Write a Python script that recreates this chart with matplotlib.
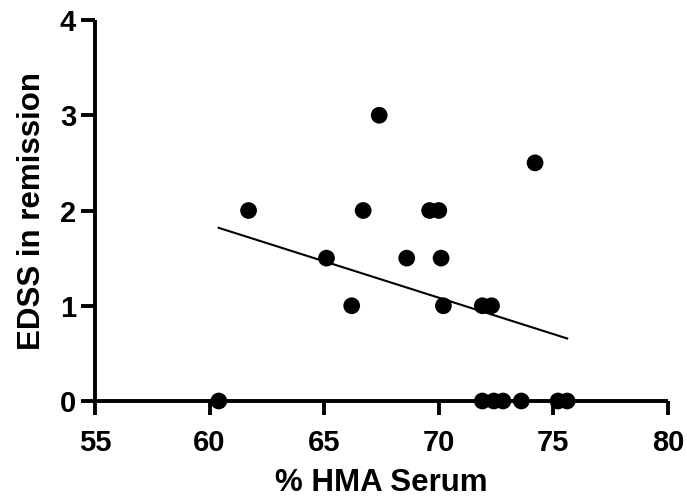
import numpy as np
import matplotlib
matplotlib.use("Agg")
import matplotlib.pyplot as plt

plt.rcParams["font.family"] = ["Liberation Sans", "DejaVu Sans"]
plt.rcParams["font.weight"] = "bold"

# % HMA in serum vs EDSS score in remission
hma_serum = [60.4, 61.7, 65.1, 66.2, 66.7, 67.4, 68.6, 69.6, 70.0, 70.1,
             70.2, 71.9, 72.3, 71.9, 72.4, 72.8, 73.6, 74.2, 75.2, 75.6]
edss = [0, 2, 1.5, 1, 2, 3, 1.5, 2, 2, 1.5,
        1, 1, 1, 0, 0, 0, 0, 2.5, 0, 0]

x_ticks = [55, 60, 65, 70, 75, 80]
y_ticks = [0, 1, 2, 3, 4]

x = np.array(hma_serum)
y = np.array(edss)
slope, intercept = np.polyfit(x, y, 1)
xfit = np.array([x.min(), x.max()])

fig = plt.figure(figsize=(6.87, 5.01), dpi=100)
ax = fig.add_axes([95 / 687, 100 / 501, 573 / 687, 381 / 501])

ax.scatter(x, y, s=145, color="black", edgecolors="none", zorder=5, clip_on=False)
ax.plot(xfit, slope * xfit + intercept, color="black", lw=1.5, zorder=4)

ax.set_xlim(55, 80)
ax.set_ylim(0, 4)
ax.set_xticks(x_ticks)
ax.set_yticks(y_ticks)
ax.spines[["top", "right"]].set_visible(False)
for s in ["left", "bottom"]:
    ax.spines[s].set_linewidth(2.8)
    ax.spines[s].set_capstyle("butt")
ax.tick_params(width=2.8, length=10, labelsize=21)
ax.tick_params(axis="x", pad=10)
ax.tick_params(axis="y", pad=3.5)
for lab in ax.get_xticklabels() + ax.get_yticklabels():
    lab.set_fontweight("bold")

ax.set_xlabel("% HMA Serum", fontsize=22.5, fontweight="bold", labelpad=8)
ax.set_ylabel("EDSS in remission", fontsize=22.5, fontweight="bold", labelpad=9)

fig.savefig("out.png", dpi=100, facecolor="white")
